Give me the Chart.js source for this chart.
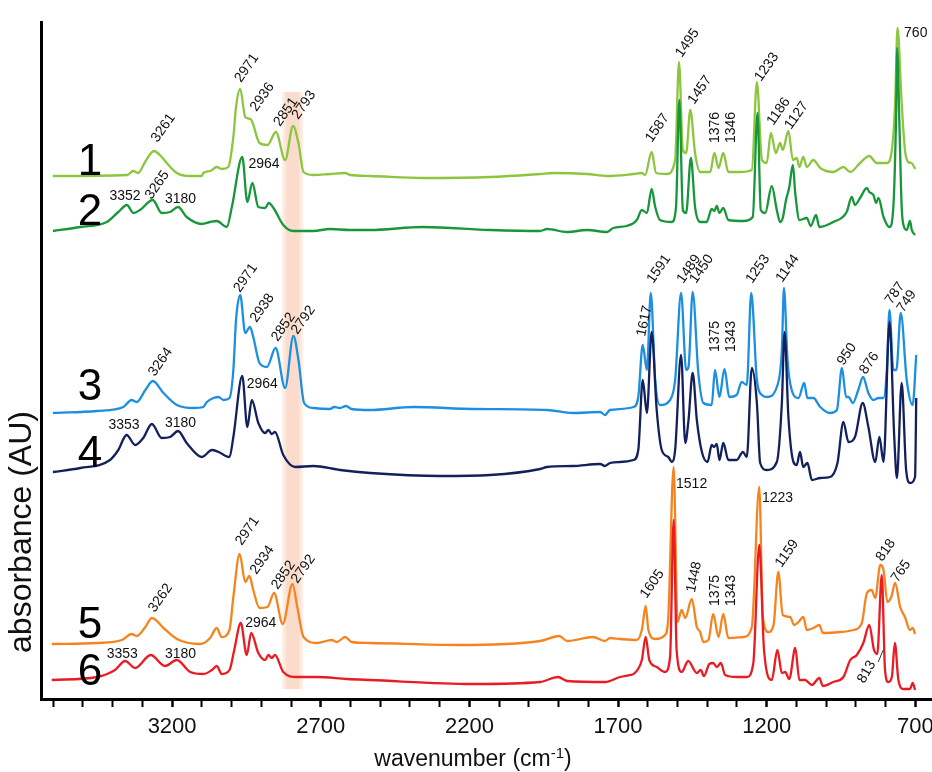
<!DOCTYPE html>
<html>
<head>
<meta charset="utf-8">
<script src="https://cdn.jsdelivr.net/npm/chart.js@4.4.1/dist/chart.umd.min.js"></script>
<style>
  html, body { margin: 0; padding: 0; background: #fff; }
  #wrap { width: 932px; height: 772px; position: relative; }
</style>
</head>
<body>
<div id="wrap"><canvas id="ftir"></canvas></div>
<script>
// Espectros FTIR: número de onda (cm-1) y absorbancia (unidades arbitrarias)
const s1Wn = [3601,3351,3331,3314,3291,3261,3235,3218,3184,3139,3100,3095,3072,3050,3033,3011,2994,2985,2971,2954,2936,2929,2906,2879,2851,2820,2793,2775,2758,2725,2669,2618,2601,2534,2356,2130,1962,1918,1804,1737,1648,1620,1609,1587,1572,1536,1508,1495,1482,1471,1457,1441,1424,1390,1376,1362,1346,1329,1289,1250,1233,1216,1200,1186,1169,1155,1146,1127,1112,1099,1090,1077,1065,1043,1020,976,942,919,886,855,830,796,779,768,760,746,735,724,713,700];
const s1Abs = [523,524,528,526,537,548,542,536,526,523,523,526,528,532,530,532,562,592,610,582,580,576,556,554,567,539,573,556,527,524,525,526,524,523,521,522,525,526,525,523,525,526,524,547,526,525,539,637,549,546,589,546,527,527,546,531,546,527,527,529,617,539,536,566,546,556,549,568,539,541,532,542,532,539,531,527,532,527,536,543,536,536,549,596,671,596,549,537,536,530];

const s2Wn = [3601,3509,3420,3381,3352,3330,3308,3265,3235,3207,3180,3151,3100,3072,3050,3016,2999,2964,2947,2930,2910,2887,2875,2859,2826,2792,2725,2669,2601,2534,2356,2130,1962,1939,1871,1804,1737,1716,1671,1637,1620,1603,1587,1575,1559,1519,1505,1494,1482,1471,1455,1441,1424,1402,1385,1376,1368,1359,1346,1329,1278,1247,1231,1220,1205,1183,1166,1155,1146,1135,1124,1112,1104,1090,1065,1052,1034,1023,976,931,914,903,886,863,855,841,832,824,807,787,774,765,761,754,746,738,729,718,712,701];
const s2Abs = [468,472,477,487,494,486,489,499,486,487,492,482,475,477,478,472,492,542,497,516,492,491,496,491,474,468,468,470,469,469,472,469,468,470,467,469,467,471,473,479,489,486,510,492,479,477,492,599,489,486,541,492,477,477,490,488,493,486,491,479,478,482,586,489,486,513,489,477,481,499,512,534,506,479,481,473,484,472,477,487,502,494,501,511,507,504,496,501,482,472,492,579,651,579,492,472,469,478,469,464];

const s3Wn = [3601,3453,3364,3336,3319,3290,3265,3229,3184,3128,3095,3083,3061,3044,3027,3007,2994,2985,2971,2954,2938,2927,2906,2881,2852,2820,2792,2775,2756,2725,2669,2655,2635,2615,2596,2534,2389,2188,1939,1851,1760,1744,1727,1648,1632,1617,1603,1590,1575,1559,1525,1508,1488,1471,1463,1449,1430,1413,1385,1374,1359,1342,1326,1301,1284,1267,1252,1233,1216,1200,1166,1149,1142,1130,1116,1093,1074,1063,1043,1020,987,964,947,933,925,910,892,876,858,841,824,807,796,787,774,764,749,729,709,697];
const s3Abs = [286,288,292,299,297,309,318,306,294,291,292,297,301,302,299,301,329,379,404,366,372,362,336,332,351,311,363,339,296,291,290,292,291,293,290,289,292,290,289,286,287,284,289,292,302,354,329,406,319,294,299,319,406,329,332,407,326,296,294,329,302,330,302,304,317,314,406,319,304,302,312,349,411,339,309,301,316,301,301,292,286,289,331,302,302,296,309,322,306,299,301,301,329,389,329,329,386,319,294,344];

const s4Wn = [3601,3509,3409,3381,3353,3324,3297,3268,3235,3207,3180,3151,3100,3066,3044,3007,2994,2964,2947,2932,2910,2887,2876,2865,2854,2826,2786,2725,2635,2534,2299,2130,1962,1939,1851,1760,1744,1727,1693,1648,1632,1617,1603,1587,1570,1553,1531,1519,1508,1488,1474,1463,1449,1435,1418,1399,1385,1377,1368,1359,1346,1329,1301,1280,1267,1250,1233,1222,1200,1166,1149,1140,1127,1110,1099,1088,1077,1063,1048,1020,987,962,942,925,903,877,858,835,821,807,787,771,762,746,731,718,701,697];
const s4Abs = [227,231,239,249,264,254,261,275,261,262,268,256,242,249,247,242,262,323,272,299,276,266,269,265,267,244,232,233,229,226,223,224,230,232,233,235,233,236,237,239,249,319,286,367,289,249,242,237,249,344,256,279,326,279,247,237,254,252,255,239,256,239,239,247,242,331,296,236,229,237,296,367,282,237,234,247,232,236,219,221,222,236,277,257,262,296,272,237,262,237,377,262,221,316,229,216,222,301];

const s5Wn = [3605,3453,3369,3336,3319,3290,3268,3229,3184,3106,3072,3050,3033,3007,2994,2973,2954,2940,2927,2906,2879,2857,2828,2795,2779,2758,2713,2663,2646,2618,2596,2534,2241,1962,1898,1871,1784,1744,1727,1693,1637,1620,1607,1598,1575,1542,1531,1513,1500,1486,1474,1452,1435,1424,1413,1396,1380,1362,1346,1329,1278,1250,1225,1213,1194,1177,1161,1146,1121,1108,1093,1077,1065,1043,1023,1011,953,908,880,863,847,835,818,807,794,781,768,751,735,718,709,701];
const s5Abs = [55,56,59,65,63,72,81,71,60,55,61,71,62,69,102,145,117,123,109,91,92,106,75,115,92,62,56,59,57,62,57,56,54,58,63,58,62,58,61,60,59,69,93,69,60,64,82,232,77,89,81,100,72,67,57,59,85,62,85,61,62,72,212,82,67,74,127,84,82,74,77,82,69,71,74,66,67,69,76,106,109,101,134,129,97,102,116,92,82,69,71,65];

const s6Wn = [3605,3453,3392,3358,3324,3272,3224,3184,3139,3095,3066,3050,3033,3007,2991,2969,2949,2934,2910,2887,2876,2865,2854,2826,2781,2713,2612,2534,2188,1962,1902,1871,1744,1693,1659,1648,1620,1607,1595,1570,1542,1525,1513,1503,1486,1464,1435,1422,1411,1393,1380,1368,1354,1340,1301,1267,1245,1225,1209,1183,1164,1149,1138,1124,1104,1090,1071,1048,1023,1011,976,942,919,897,875,855,839,828,813,802,791,779,769,757,740,718,709,701];
const s6Abs = [19,22,29,38,31,44,33,39,27,25,29,33,25,29,49,76,44,66,46,39,44,41,44,27,22,22,20,19,15,17,22,18,17,22,24,25,39,62,39,32,27,42,179,49,27,38,26,29,23,35,36,32,36,24,22,22,36,154,49,19,49,26,27,20,51,19,19,14,21,13,17,22,39,44,56,74,49,45,124,29,17,22,56,19,10,10,16,9];

const seriesWn = [s1Wn, s2Wn, s3Wn, s4Wn, s5Wn, s6Wn];
const seriesAbs = [s1Abs, s2Abs, s3Abs, s4Abs, s5Abs, s6Abs];
const seriesColors = ['#8cc63f', '#17973a', '#1d8fe1', '#13205e', '#f5841f', '#e91b23'];

// Marcas del eje x
const tickLabels = [3200, 2700, 2200, 1700, 1200, 700];
const minorTicks = [3600,3500,3400,3300,3200,3100,3000,2900,2800,2700,2600,2500,2400,2300,2200,2100,2000,1900,1800,1700,1600,1500,1400,1300,1200,1100,1000,900,800,700];

// Etiquetas de picos (posición en coordenadas de datos, ángulo en grados)
const labelText = ['3261','2971','2936','2851','2793','1587','1495','1457','1376','1346','1233','1186','1127','760',
  '2964','3352','3265','3180',
  '3264','2971','2938','2852','2792','1617','1591','1489','1450','1375','1343','1253','1144','950','876','787','749',
  '2964','3353','3180',
  '3262','2971','2934','2852','2792','1605','1512','1448','1375','1343','1223','1159','818','765',
  '2964','3353','3180','813'];
const labelWn = [3249,2968,2916,2837,2776,1587,1486,1444,1362,1306,1219,1178,1118,738,
  2943,3411,3269,3224,
  3258,2972,2916,2845,2778,1609,1582,1481,1438,1362,1306,1249,1148,942,867,780,741,
  2949,3414,3224,
  3258,2966,2916,2845,2778,1604,1505,1442,1362,1306,1216,1150,811,760,
  2954,3420,3224,872];
const labelAbs = [556,616,587,572,579,556,641,594,556,556,617,573,569,662,
  531,499,499,496,
  322,406,376,357,364,362,415,415,415,347,347,415,416,333,324,394,386,
  311,270,272,
  86,153,124,109,115,100,211,106,93,93,197,131,137,116,
  72,41,41,15];
const labelAngle = [-55,-55,-55,-55,-55,-55,-55,-55,-90,-90,-55,-55,-55,0,
  0,0,-55,0,
  -55,-55,-55,-55,-55,-78,-55,-55,-55,-90,-90,-55,-55,-55,-55,-55,-55,
  0,0,0,
  -55,-55,-55,-55,-55,-55,0,-78,-90,-90,0,-55,-55,-55,
  0,0,0,-60];

// Números de cada espectro
const numText = ['1', '2', '3', '4', '5', '6'];
const numWn = [3476, 3476, 3476, 3476, 3476, 3476];
const numAbs = [524, 474, 299, 232, 61, 14];

// Banda sombreada y línea guía de 813
const bandWn = [2831, 2758];
const bandAbs = [10, 607];
const leaderWn = [825, 808];
const leaderAbs = [37, 49];

const FONT = '"Liberation Sans", Arial, Helvetica, sans-serif';

function toPx(chart, w, a) {
    return [chart.scales.x.getPixelForValue(w), chart.scales.y.getPixelForValue(a)];
}

const overlayPlugin = {
    id: 'overlay',
    beforeDatasetsDraw(chart) {
        const ctx = chart.ctx;
        const [x1, y1] = toPx(chart, bandWn[0], bandAbs[1]);
        const [x2, y2] = toPx(chart, bandWn[1], bandAbs[0]);
        const g = ctx.createLinearGradient(x1, 0, x2, 0);
        g.addColorStop(0, 'rgba(249,205,182,0.2)');
        g.addColorStop(0.25, 'rgba(249,205,182,0.7)');
        g.addColorStop(0.75, 'rgba(249,205,182,0.7)');
        g.addColorStop(1, 'rgba(249,205,182,0.2)');
        ctx.save();
        ctx.fillStyle = g;
        ctx.fillRect(x1, y1, x2 - x1, y2 - y1);
        ctx.restore();
    },
    afterDatasetsDraw(chart) {
        const ctx = chart.ctx;
        ctx.save();
        ctx.fillStyle = '#111';
        ctx.font = '14px ' + FONT;
        ctx.textAlign = 'left';
        ctx.textBaseline = 'alphabetic';
        labelText.forEach((t, i) => {
            const [x, y] = toPx(chart, labelWn[i], labelAbs[i]);
            ctx.save();
            ctx.translate(x, y);
            ctx.rotate(labelAngle[i] * Math.PI / 180);
            ctx.fillText(t, 0, 0);
            ctx.restore();
        });

        // línea guía
        const [lx1, ly1] = toPx(chart, leaderWn[0], leaderAbs[0]);
        const [lx2, ly2] = toPx(chart, leaderWn[1], leaderAbs[1]);
        ctx.strokeStyle = '#333';
        ctx.lineWidth = 1;
        ctx.beginPath();
        ctx.moveTo(lx1, ly1);
        ctx.lineTo(lx2, ly2);
        ctx.stroke();

        // números grandes
        ctx.font = '44px ' + FONT;
        ctx.textAlign = 'center';
        ctx.fillStyle = '#000';
        numText.forEach((t, i) => {
            const [x, y] = toPx(chart, numWn[i], numAbs[i]);
            ctx.fillText(t, x, y);
        });
        ctx.restore();
    },
    afterDraw(chart) {
        const ctx = chart.ctx;
        ctx.save();
        ctx.fillStyle = '#111';
        // título eje x con superíndice
        const main = 'wavenumber (cm';
        const sup = '-1';
        const close = ')';
        ctx.font = '23px ' + FONT;
        const wMain = ctx.measureText(main).width;
        const wClose = ctx.measureText(close).width;
        ctx.font = '15px ' + FONT;
        const wSup = ctx.measureText(sup).width;
        const total = wMain + wSup + wClose;
        let x = 473 - total / 2;
        const base = 766;
        ctx.textAlign = 'left';
        ctx.textBaseline = 'alphabetic';
        ctx.font = '23px ' + FONT;
        ctx.fillText(main, x, base);
        x += wMain;
        ctx.font = '15px ' + FONT;
        ctx.fillText(sup, x, base - 8);
        x += wSup;
        ctx.font = '23px ' + FONT;
        ctx.fillText(close, x, base);

        // título eje y
        ctx.translate(31, 532);
        ctx.rotate(-Math.PI / 2);
        ctx.font = '32px ' + FONT;
        ctx.textAlign = 'center';
        ctx.textBaseline = 'alphabetic';
        ctx.fillText('absorbance (AU)', 0, 0);
        ctx.restore();
    }
};

// el espectro de abajo de cada par se dibuja encima
const drawOrder = [1, 0, 3, 2, 5, 4];
const datasets = drawOrder.map(k => ({
    label: 'espectro ' + (k + 1),
    data: seriesWn[k].map((w, i) => ({ x: w, y: seriesAbs[k][i] })),
    borderColor: seriesColors[k],
    borderWidth: 2.3,
    pointRadius: 0,
    fill: false,
    cubicInterpolationMode: 'monotone'
}));

new Chart(document.getElementById('ftir'), {
    type: 'line',
    data: { datasets: datasets },
    options: {
        responsive: true,
        maintainAspectRatio: false,
        animation: false,
        layout: { padding: { left: 41, top: 22, right: 0, bottom: 0 } },
        plugins: {
            legend: { display: false },
            tooltip: { enabled: false }
        },
        scales: {
            x: {
                type: 'linear',
                reverse: true,
                min: 644,
                max: 3641,
                afterBuildTicks: (s) => { s.ticks = minorTicks.map(v => ({ value: v })); },
                afterFit: (s) => { s.height = 73; s.paddingLeft = 0; s.paddingRight = 0; },
                ticks: {
                    autoSkip: false,
                    maxRotation: 0,
                    padding: 7,
                    color: '#111',
                    font: { size: 22, family: FONT },
                    callback: (v) => tickLabels.includes(v) ? String(v) : ''
                },
                grid: {
                    drawOnChartArea: false,
                    drawTicks: true,
                    tickLength: 8,
                    tickColor: '#000',
                    tickWidth: (c) => (c.tick && tickLabels.includes(c.tick.value)) ? 2.5 : 2
                },
                border: { display: true, width: 3, color: '#000' }
            },
            y: {
                min: 0,
                max: 677,
                ticks: { display: false },
                grid: { display: false, drawTicks: false },
                border: { display: true, width: 3, color: '#000' },
                afterFit: (s) => { s.width = 0; }
            }
        }
    },
    plugins: [overlayPlugin]
});
</script>
</body>
</html>
